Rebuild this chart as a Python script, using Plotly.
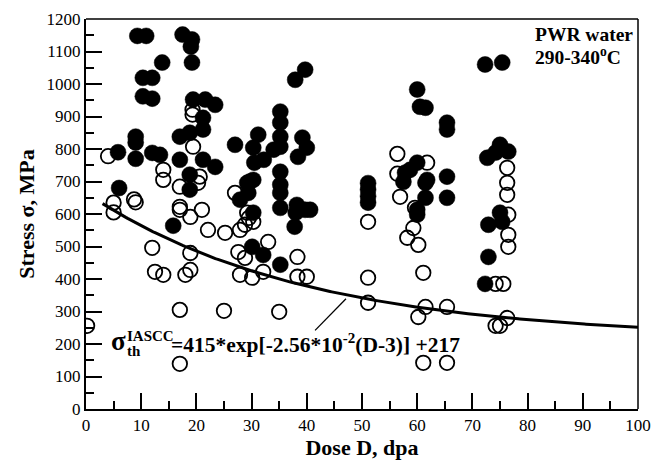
import numpy as np
import plotly.graph_objects as go

# Cracked specimens (solid symbols): dose D (dpa), applied stress (MPa)
cracked_dose = [5.8, 6.0, 9.0, 9.0, 9.0, 9.3, 10.9, 10.3, 12.0, 10.3, 12.0, 13.8, 12.0, 13.4,
                15.8, 17.5, 19.2, 19.0, 19.2, 17.0, 18.8, 17.0, 18.8, 18.8, 19.4, 21.6, 23.4,
                21.2, 21.2, 21.2, 23.4, 27.0, 30.3, 31.2, 30.5, 32.2, 34.0, 27.9, 29.2, 30.3,
                29.4, 29.7, 30.3, 35.2, 35.2, 35.2, 35.2, 35.2, 35.2, 35.2, 35.2, 37.9, 39.7,
                39.2, 40.0, 38.4, 38.2, 39.7, 40.6, 38.0, 37.8, 30.1, 32.1, 35.2,
                51.1, 51.1, 51.1, 51.1, 57.8, 57.5, 58.7, 60.0, 60.0, 60.5, 61.5, 61.8, 61.5,
                61.5, 60.0, 60.0, 65.4, 65.4, 65.4, 65.4, 72.3, 75.4, 75.0, 76.5, 72.7, 74.2,
                75.0, 72.9, 75.4, 72.9, 72.3]
cracked_stress = [790, 680, 838, 820, 770, 1148, 1148, 1019, 1019, 962, 955, 1066, 788, 782,
                  564, 1152, 1137, 1115, 1066, 838, 850, 767, 721, 675, 952, 952, 936,
                  896, 860, 767, 745, 813, 804, 844, 758, 767, 798, 644, 696, 705,
                  665, 700, 604, 915, 881, 838, 807, 730, 690, 665, 619, 1013, 1044,
                  835, 804, 776, 628, 613, 613, 604, 561, 499, 474, 444,
                  695, 675, 655, 635, 727, 699, 736, 758, 983, 930, 927, 705, 696,
                  650, 613, 598, 881, 860, 715, 650, 1060, 1066, 813, 792, 773, 789,
                  604, 567, 576, 468, 385]

# Uncracked specimens (open symbols)
intact_dose = [0.2, 4.0, 5.0, 5.0, 8.7, 9.0, 12.0, 12.5, 14.0, 14.0, 14.0, 17.0, 17.0, 17.0,
               18.9, 18.0, 18.9, 18.9, 17.0, 17.0, 19.4, 19.3, 19.3, 20.6, 20.3, 21.0,
               22.1, 25.2, 27.9, 28.8, 30.3, 33.0, 27.6, 28.8, 27.9, 30.1, 32.1, 38.3,
               38.3, 40.0, 25.0, 35.0, 27.0, 29.2, 29.5,
               51.1, 51.1, 51.1, 56.4, 56.4, 56.9, 59.3, 58.2, 60.2, 61.1, 61.5, 60.2,
               65.4, 61.1, 65.4, 61.8, 59.6,
               76.3, 76.3, 76.3, 76.5, 76.5, 76.5, 74.2, 75.6, 76.3, 74.2, 75.0]
intact_stress = [256, 778, 635, 605, 645, 636, 496, 422, 413, 736, 705, 684, 622, 305,
                 591, 413, 428, 480, 139, 613, 807, 921, 906, 715, 696, 613,
                 551, 542, 551, 567, 576, 514, 483, 465, 413, 404, 422, 468,
                 407, 407, 302, 299, 665, 604, 588,
                 576, 404, 327, 785, 724, 653, 557, 527, 505, 419, 314, 283,
                 314, 142, 142, 758, 619,
                 742, 696, 659, 598, 536, 499, 385, 385, 280, 256, 256]

# Threshold stress fit: sigma = 415*exp(-2.56e-2*(D-3)) + 217
fit_a, fit_k, fit_d0, fit_c = 415.0, 2.56e-2, 3.0, 217.0
fit_dose = np.linspace(3, 100, 300)
fit_stress = fit_a * np.exp(-fit_k * (fit_dose - fit_d0)) + fit_c

x_ticks = list(range(0, 101, 10))
y_ticks = list(range(0, 1201, 100))

SERIF = "Liberation Serif, Times New Roman, serif"

fig = go.Figure()

fig.add_trace(go.Scatter(
    x=intact_dose, y=intact_stress, mode="markers",
    marker=dict(symbol="circle", size=14.5, color="rgba(255,255,255,0)",
                line=dict(color="black", width=1.8)),
    showlegend=False, hoverinfo="x+y"))

fig.add_trace(go.Scatter(
    x=cracked_dose, y=cracked_stress, mode="markers",
    marker=dict(symbol="circle", size=16, color="black",
                line=dict(color="black", width=0.5)),
    showlegend=False, hoverinfo="x+y"))

fig.add_trace(go.Scatter(
    x=fit_dose, y=fit_stress, mode="lines",
    line=dict(color="black", width=3),
    showlegend=False, hoverinfo="skip"))

# leader line from the equation to the curve
fig.add_shape(type="line", x0=41.5, y0=242, x1=47.1, y1=339,
              line=dict(color="black", width=1.3))

# top and right frame edges (thinner than the axes)
fig.add_shape(type="line", xref="paper", yref="paper", x0=0, y0=1, x1=1, y1=1,
              line=dict(color="black", width=1.5))
fig.add_shape(type="line", xref="paper", yref="paper", x0=1, y0=0, x1=1, y1=1,
              line=dict(color="black", width=1.5))

bold = dict(family=SERIF, color="black")
fig.add_annotation(x=5.9, y=208, text="<b>σ</b>", showarrow=False,
                   xanchor="center", yanchor="middle", font=dict(size=27, **bold))
fig.add_annotation(x=7.1, y=224, text="<b>IASCC</b>", showarrow=False,
                   xanchor="left", yanchor="middle", font=dict(size=15, **bold))
fig.add_annotation(x=7.1, y=178, text="<b>th</b>", showarrow=False,
                   xanchor="left", yanchor="middle", font=dict(size=15, **bold))
fig.add_annotation(x=15.0, y=203,
                   text="<b>=415*exp[-2.56*10<sup>-2</sup>(D-3)] +217</b>",
                   showarrow=False, xanchor="left", yanchor="middle",
                   font=dict(size=21.5, **bold))

# environment label, upper right
fig.add_annotation(xref="paper", yref="paper", x=0.809, y=0.959,
                   text="<b>PWR water</b>", showarrow=False,
                   xanchor="left", yanchor="middle", font=dict(size=19.5, **bold))
fig.add_annotation(xref="paper", yref="paper", x=0.809, y=0.905,
                   text="<b>290-340<sup>o</sup>C</b>", showarrow=False,
                   xanchor="left", yanchor="middle", font=dict(size=19.5, **bold))

axis_common = dict(
    showline=True, linecolor="black", linewidth=2,
    ticks="inside", ticklen=16, tickwidth=2, tickcolor="black",
    showgrid=False, zeroline=False, automargin=False,
    tickfont=dict(family=SERIF, size=17, color="black"),
    mirror=False,
)

fig.update_xaxes(range=[0, 100], tickvals=x_ticks,
                 minor=dict(dtick=5, ticks="inside", ticklen=8, tickwidth=2, tickcolor="black"),
                 title=dict(text="<b>Dose D, dpa</b>", font=dict(family=SERIF, size=22, color="black"),
                            standoff=2),
                 **axis_common)
fig.update_yaxes(range=[0, 1200], tickvals=y_ticks,
                 minor=dict(dtick=50, ticks="inside", ticklen=8, tickwidth=2, tickcolor="black"),
                 title=dict(text="<b>Stress σ, MPa</b>", font=dict(family=SERIF, size=22, color="black"),
                            standoff=6),
                 **axis_common)

fig.update_layout(
    width=654, height=460,
    margin=dict(l=86, r=16, t=19, b=51),
    paper_bgcolor="white", plot_bgcolor="white",
    font=dict(family=SERIF, color="black"),
)

fig.write_html("out.html")
